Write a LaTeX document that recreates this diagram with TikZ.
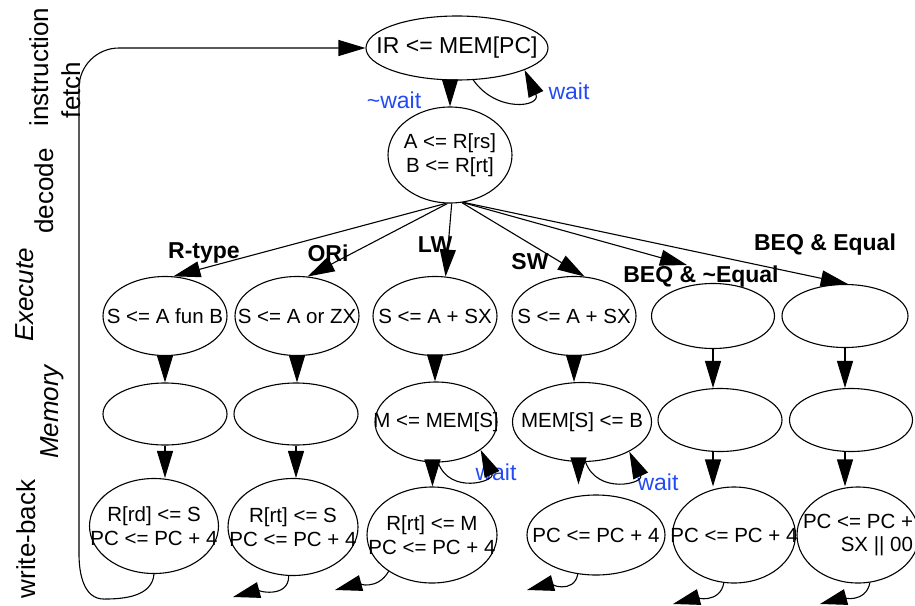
\documentclass[tikz,border=0pt]{standalone}
\usepackage{fontspec}
\setmainfont{Liberation Sans}
\usepackage{xcolor}
\usetikzlibrary{arrows.meta,shapes.geometric}
\definecolor{waitblue}{RGB}{35,75,245}

\begin{document}
\begin{tikzpicture}[x=1pt, y=-1pt, line width=1.1pt,
    arr/.style={-{Triangle[length=27pt,width=16pt]}},
    st/.style={ellipse, draw, inner xsep=-30pt, inner ysep=0pt, align=center,
      font=\fontsize{20.5}{23.5}\selectfont},
    sz/.style 2 args={minimum width=#1pt, minimum height=#2pt},
    lbl/.style={inner sep=0pt, font=\bfseries\fontsize{23}{26}\selectfont},
    wt/.style={inner sep=0pt, text=waitblue, font=\fontsize{23}{26}\selectfont},
    phase/.style={rotate=90, anchor=base, inner sep=0pt, font=\fontsize{26}{30}\selectfont}]
  \useasboundingbox (0,0) rectangle (915,605);

  % phases on the left
  \node[phase] (lif) at (48,67) {instruction};
  \node[phase] (lfe) at (80,90) {fetch};
  \node[phase] (lde) at (53,191) {decode};
  \node[phase] (lex) at (33,295) {\itshape Execute};
  \node[phase] (lme) at (58,412) {\itshape Memory};
  \node[phase] (lwb) at (35,539) {write-back};

  % fetch and decode
  \node[st, sz={182}{64}, font=\fontsize{23}{26}\selectfont] (ir) at (457,48) {IR <= MEM[PC]};
  \node[st, sz={124}{96}] (dec) at (450,155) {A <= R[rs]\\B <= R[rt]};
  \node[wt] (nw) at (394,100) {\textasciitilde wait};
  \node[wt, anchor=west] (w0) at (548,91) {wait};

  % execute
  \node[st, sz={124}{79}] (e1) at (165,316) {S <= A fun B};
  \node[st, sz={124}{79}] (e2) at (297,316) {S <= A or ZX};
  \node[st, sz={124}{79}] (e3) at (435,316) {S <= A + SX};
  \node[st, sz={124}{79}] (e4) at (574,316) {S <= A + SX};
  \node[st, sz={123}{65}] (e5) at (713,316) {};
  \node[st, sz={126}{63}] (e6) at (845,316) {};

  % memory
  \node[st, sz={124}{62}] (m1) at (165,414) {};
  \node[st, sz={124}{62}] (m2) at (296,414) {};
  \node[st, sz={122}{80}] (m3) at (436,422) {M <= MEM[S]};
  \node[st, sz={139}{79}] (m4) at (582,422) {MEM[S] <= B};
  \node[st, sz={124}{63}] (m5) at (720,420) {};
  \node[st, sz={123}{63}] (m6) at (851,420) {};
  \node[wt, anchor=west] (wm) at (475,472) {wait};
  \node[wt, anchor=west] (ws) at (637,482) {wait};

  % write back
  \node[st, sz={129}{95}] (w1) at (154,526) {R[rd] <= S\\PC <= PC + 4};
  \node[st, sz={130}{97}] (w2) at (293,527) {R[rt] <= S\\PC <= PC + 4};
  \node[st, sz={130}{96}] (w3) at (432,535) {R[rt] <= M\\PC <= PC + 4};
  \node[st, sz={138}{80}] (w4) at (596,535) {PC <= PC + 4};
  \node[st, sz={123}{96}] (w5) at (734,535) {PC <= PC + 4};
  \node[st, sz={122}{96}, align=right] (w6) at (858,535) {PC <= PC +\\SX || 00};

  % opcode labels
  \node[lbl] (lrt) at (204,253) {R-type};
  \node[lbl] (lor) at (328,253) {ORi};
  \node[lbl] (llw) at (435,245) {LW};
  \node[lbl] (lsw) at (530,262) {SW};
  \node[lbl] (lbn) at (701,277) {BEQ \& \textasciitilde{}Equal};
  \node[lbl] (lbe) at (825,245) {BEQ \& Equal};

  % free ends
  \coordinate (beq) at (687,265);
  \coordinate (o2) at (233,597);
  \coordinate (o3) at (335,590);
  \coordinate (o4) at (527,590);
  \coordinate (o5) at (673,604);
  \coordinate (o6) at (820,604);

  % fetch
  \draw[arr] (dec.north |- ir.south) -- (dec.north);
  \draw[arr] (ir.-63) to[out=-55, in=-65, looseness=2] (ir.-18);

  % decode to execute
  \draw[arr] (dec.-95) -- (e1.78);
  \draw[arr] (dec.-93) -- (e2.75);
  \draw[arr] (dec.-88) -- (e3.75);
  \draw[arr] (dec.-76) -- (e4.75);
  \draw[arr] (dec.-75) -- (beq);
  \draw[arr] (dec.-74) -- (e6.85);

  % execute to memory
  \draw[arr] (e1.south) -- (e1.south |- m1.north);
  \draw[arr] (e2.south) -- (e2.south |- m2.north);
  \draw[arr] (e3.south) -- (e3.south |- m3.north);
  \draw[arr] (e4.south) -- (e4.south |- m4.north);
  \draw[arr] (e5.south) -- (e5.south |- m5.north);
  \draw[arr] (e6.south) -- (e6.south |- m6.north);

  % memory to write back
  \draw[arr] (m1.south) -- (m1.south |- w1.north);
  \draw[arr] (m2.south) -- (m2.south |- w2.north);
  \draw[arr] (m3.-95) -- (m3.-95 |- w3.north);
  \draw[arr, shorten >=10pt] (m4.-95) -- (m4.-95 |- w4.north);
  \draw[arr] (e5.south |- m5.south) -- (e5.south |- w5.north);
  \draw[arr] (e6.south |- m6.south) -- (e6.south |- w6.north);
  \draw[arr] (m3.-87) to[out=-70, in=-65, looseness=2] (m3.-32);
  \draw[arr] (m4.-85) to[out=-70, in=-65, looseness=2] (m4.-32);

  % back to fetch
  \draw[arr] (w1.south) to[out=-95, in=0] ++(-50,25) to[out=180, in=-90] ++(-25,-45)
    [rounded corners=40pt] |- (ir.west);
  \draw[arr] (w2.-95) to[out=-90, in=15] (o2);
  \draw[arr] (w3.-140) to[out=-120, in=15] (o3);
  \draw[arr] (w4.-115) to[out=-100, in=15] (o4);
  \draw[arr] (w5.-102) to[out=-100, in=15] (o5);
  \draw[arr] (w6.-76) to[out=-100, in=15] (o6);
\end{tikzpicture}
\end{document}
